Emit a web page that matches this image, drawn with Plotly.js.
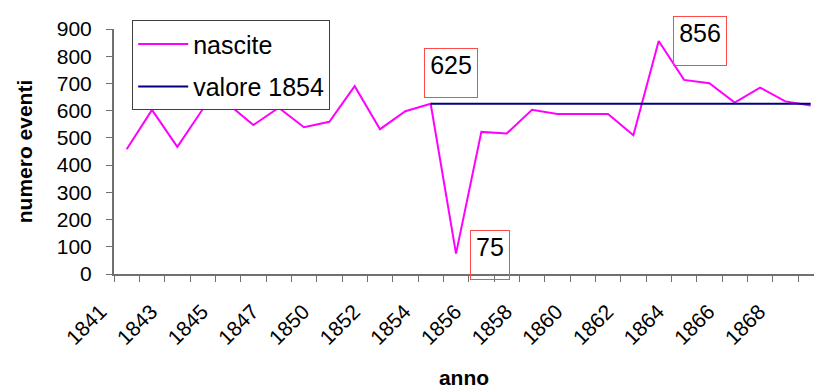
<!DOCTYPE html>
<html>
<head>
<meta charset="utf-8">
<script src="https://cdn.plot.ly/plotly-3.0.1.min.js"></script>
<style>html,body{margin:0;padding:0;background:#fff;}#chart{width:814px;height:389px;}</style>
</head>
<body>
<div id="chart"></div>
<script>
var years = ['1841','1842','1843','1844','1845','1846','1847','1848','1850','1851','1852','1853','1854','1855','1856','1857','1858','1859','1860','1861','1862','1863','1864','1865','1866','1867','1868','1869'];
var nascite = [458,603,467,605,625,547,611,539,559,690,532,598,625,75,522,516,603,588,588,588,510,856,713,701,630,685,634,619];
var valore1854 = [null,null,null,null,null,null,null,null,null,null,null,null,625,625,625,625,625,625,625,625,625,625,625,625,625,625,625,625];
var yTicks = [0,100,200,300,400,500,600,700,800,900];
var notes = [
  {year:'1854', value:625, text:'625'},
  {year:'1855', value:75, text:'75'},
  {year:'1863', value:856, text:'856'}
];

var FONT = 'Liberation Sans, Arial, sans-serif';
var tickText = years.map(function(y,i){ return i % 2 === 0 ? y : ''; });

var traces = [
  {x: years, y: nascite, type:'scatter', mode:'lines', name:'nascite',
   line:{color:'#FF00FF', width:2}, legendgroup:'a'},
  {x: years, y: valore1854, type:'scatter', mode:'lines', name:'valore 1854',
   line:{color:'#000080', width:2}, legendgroup:'b'}
];

var annShift = {
  '625': {xanchor:'left', yanchor:'bottom', xshift:-7, yshift:6, w:48},
  '75':  {xanchor:'left', yanchor:'top', xshift:14, yshift:24, w:34},
  '856': {xanchor:'left', yanchor:'top', xshift:14, yshift:25, w:48}
};
var annotations = notes.map(function(n){
  var s = annShift[n.text];
  return {x:years.indexOf(n.year), y:n.value, xref:'x', yref:'y', text:n.text, showarrow:false,
    xanchor:s.xanchor, yanchor:s.yanchor, xshift:s.xshift, yshift:s.yshift,
    width:s.w, height:44, align:'center', valign:'top', borderpad:2,
    bordercolor:'#FF4A4A', borderwidth:1, bgcolor:'rgba(255,255,255,0)',
    font:{family:FONT, size:25, color:'#000'}};
});

var layout = {
  width:814, height:389,
  margin:{l:114, r:0, t:29, b:115},
  paper_bgcolor:'#fff', plot_bgcolor:'#fff',
  showlegend:true,
  legend:{x:0.026, y:1.036, xanchor:'left', yanchor:'top',
    bordercolor:'#404040', borderwidth:1, bgcolor:'#fff',
    font:{family:FONT, size:25, color:'#000'},
    itemwidth:50, tracegroupgap:7, traceorder:'grouped'},
  xaxis:{type:'category', categoryorder:'array', categoryarray:years,
    range:[-0.5, 27.13], tickvals:years, ticktext:tickText,
    tickson:'boundaries', ticks:'outside', ticklen:6, tickcolor:'#707070', tickwidth:1,
    showline:true, linecolor:'#707070', linewidth:2, showgrid:false, zeroline:false,
    tickangle:-45, tickfont:{family:FONT, size:21, color:'#000'},
    ticklabelshift:-26, ticklabelstandoff:15,
    title:{text:'<b>anno</b>', font:{family:FONT, size:21, color:'#000'}, standoff:22},
    fixedrange:true},
  yaxis:{range:[0,900], tickvals:yTicks, ticks:'outside', ticklen:6, tickcolor:'#707070',
    showline:true, linecolor:'#707070', linewidth:2, showgrid:false, zeroline:false,
    tickfont:{family:FONT, size:21, color:'#000'}, ticklabelstandoff:10,
    title:{text:'<b>numero eventi</b>', font:{family:FONT, size:21, color:'#000'}, standoff:18},
    fixedrange:true},
  annotations: annotations
};

Plotly.newPlot('chart', traces, layout, {displayModeBar:false, staticPlot:true});
</script>
</body>
</html>
